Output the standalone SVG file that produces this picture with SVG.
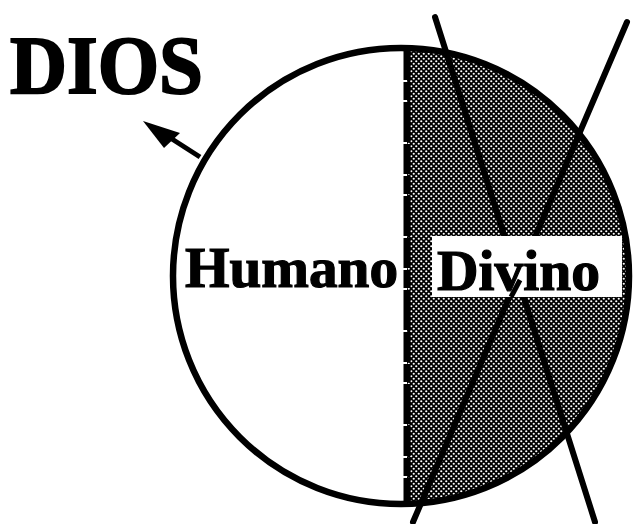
<svg xmlns="http://www.w3.org/2000/svg" width="635" height="524" viewBox="0 0 635 524">
  <style>
    .lbl { font-family: "Liberation Serif", "Times New Roman", serif; font-weight: bold; fill: #000; stroke: #000; stroke-width: 1.2; }
    .ln { stroke: #000; stroke-width: 6; stroke-linecap: round; fill: none; }
  </style>
  <defs>
    <pattern id="halftone" width="5" height="5" patternUnits="userSpaceOnUse">
      <rect width="5" height="5" fill="#000"/>
      <circle cx="1.25" cy="1.25" r="1.1" fill="#fff"/>
      <circle cx="3.75" cy="3.75" r="1.1" fill="#fff"/>
    </pattern>
    <clipPath id="circ">
      <circle cx="401" cy="276" r="228"/>
    </clipPath>
  </defs>
  <rect width="635" height="524" fill="#fff"/>

  <g id="divine-half">
    <rect x="407" y="40" width="235" height="480" fill="url(#halftone)" clip-path="url(#circ)"/>
    <line x1="407" y1="50" x2="407" y2="504" stroke="#000" stroke-width="7" stroke-dasharray="30 2 18 2 40 2"/>
  </g>

  <g id="connectors">
    <line class="ln" x1="435" y1="17" x2="595" y2="522"/>
    <line class="ln" x1="627" y1="22" x2="413" y2="522"/>
    <path d="M200,157 L172,139" stroke="#000" stroke-width="5" fill="none"/>
    <path d="M143,121 L180,133 L164,148 Z" fill="#000"/>
  </g>

  <g id="circle-node">
    <circle cx="401" cy="276" r="228" fill="none" stroke="#000" stroke-width="6.5"/>
  </g>

  <g id="divino">
    <rect x="432" y="236" width="190" height="61" fill="#fff"/>
    <text class="lbl" x="437" y="290" font-size="56" textLength="163" lengthAdjust="spacingAndGlyphs">Divino</text>
    <line x1="520" y1="280" x2="511" y2="297" stroke="#000" stroke-width="5"/>
  </g>

  <g id="humano">
    <text class="lbl" x="185" y="287" font-size="56" textLength="213" lengthAdjust="spacingAndGlyphs">Humano</text>
  </g>

  <g id="dios">
    <text class="lbl" x="10" y="93" font-size="82" textLength="193" lengthAdjust="spacingAndGlyphs" style="stroke-width:2">DIOS</text>
  </g>
</svg>
